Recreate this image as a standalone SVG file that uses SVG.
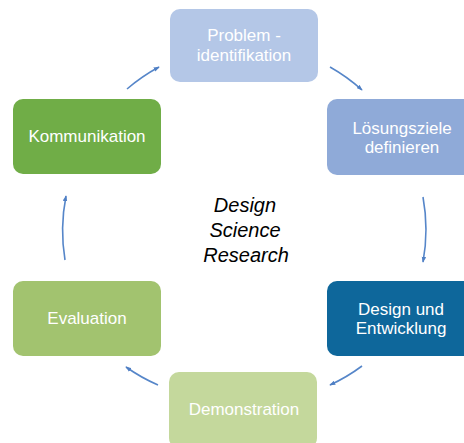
<svg xmlns="http://www.w3.org/2000/svg" width="464" height="443" viewBox="0 0 464 443">
<defs>
<marker id="ah" viewBox="0 0 8 6" refX="7" refY="3" markerWidth="6" markerHeight="5" orient="auto" markerUnits="userSpaceOnUse">
<path d="M0,0 L8,3 L0,6 z" fill="#4f7fc4"/>
</marker>
<style>
.box{stroke:none}
.t{font-family:"Liberation Sans",Arial,sans-serif;font-size:17px;fill:#ffffff;text-anchor:middle}
.c{font-family:"Liberation Sans",Arial,sans-serif;font-size:20px;font-style:italic;fill:#000000;text-anchor:middle}
.arr{fill:none;stroke:#5686c9;stroke-width:1.6;marker-end:url(#ah)}
</style>
</defs>
<rect width="464" height="443" fill="#ffffff"/>
<g id="connectors">
<path class="arr" d="M127,89 A180,180 0 0 1 159,67"/>
<path class="arr" d="M330,67 A180,180 0 0 1 362,90"/>
<path class="arr" d="M423,197 A180,180 0 0 1 423,262"/>
<path class="arr" d="M362,366 A180,180 0 0 1 330,385"/>
<path class="arr" d="M158,385 A180,180 0 0 1 126,367"/>
<path class="arr" d="M65,260 A180,180 0 0 1 66,196"/>
</g>
<g id="problem">
<rect class="box" x="170" y="9" width="148" height="73" rx="10" fill="#b4c7e7"/>
<text class="t" x="244" y="41">Problem -</text>
<text class="t" x="244" y="61">identifikation</text>
</g>
<g id="loesungsziele">
<rect class="box" x="327" y="99" width="148" height="76" rx="10" fill="#8faad8"/>
<text class="t" x="402" y="134">Lösungsziele</text>
<text class="t" x="402" y="153">definieren</text>
</g>
<g id="design">
<rect class="box" x="327" y="281" width="148" height="75" rx="10" fill="#0e679b"/>
<text class="t" x="401" y="315">Design und</text>
<text class="t" x="401" y="334">Entwicklung</text>
</g>
<g id="demonstration">
<rect class="box" x="169" y="372" width="148" height="76" rx="10" fill="#c4d89c"/>
<text class="t" x="244" y="415">Demonstration</text>
</g>
<g id="evaluation">
<rect class="box" x="13" y="281" width="148" height="75" rx="10" fill="#a2c36f"/>
<text class="t" x="87" y="324">Evaluation</text>
</g>
<g id="kommunikation">
<rect class="box" x="13" y="99" width="148" height="75" rx="10" fill="#70ad47"/>
<text class="t" x="87" y="142">Kommunikation</text>
</g>
<g id="center">
<text class="c" x="245" y="212">Design</text>
<text class="c" x="245" y="237">Science</text>
<text class="c" x="246" y="262">Research</text>
</g>
</svg>
